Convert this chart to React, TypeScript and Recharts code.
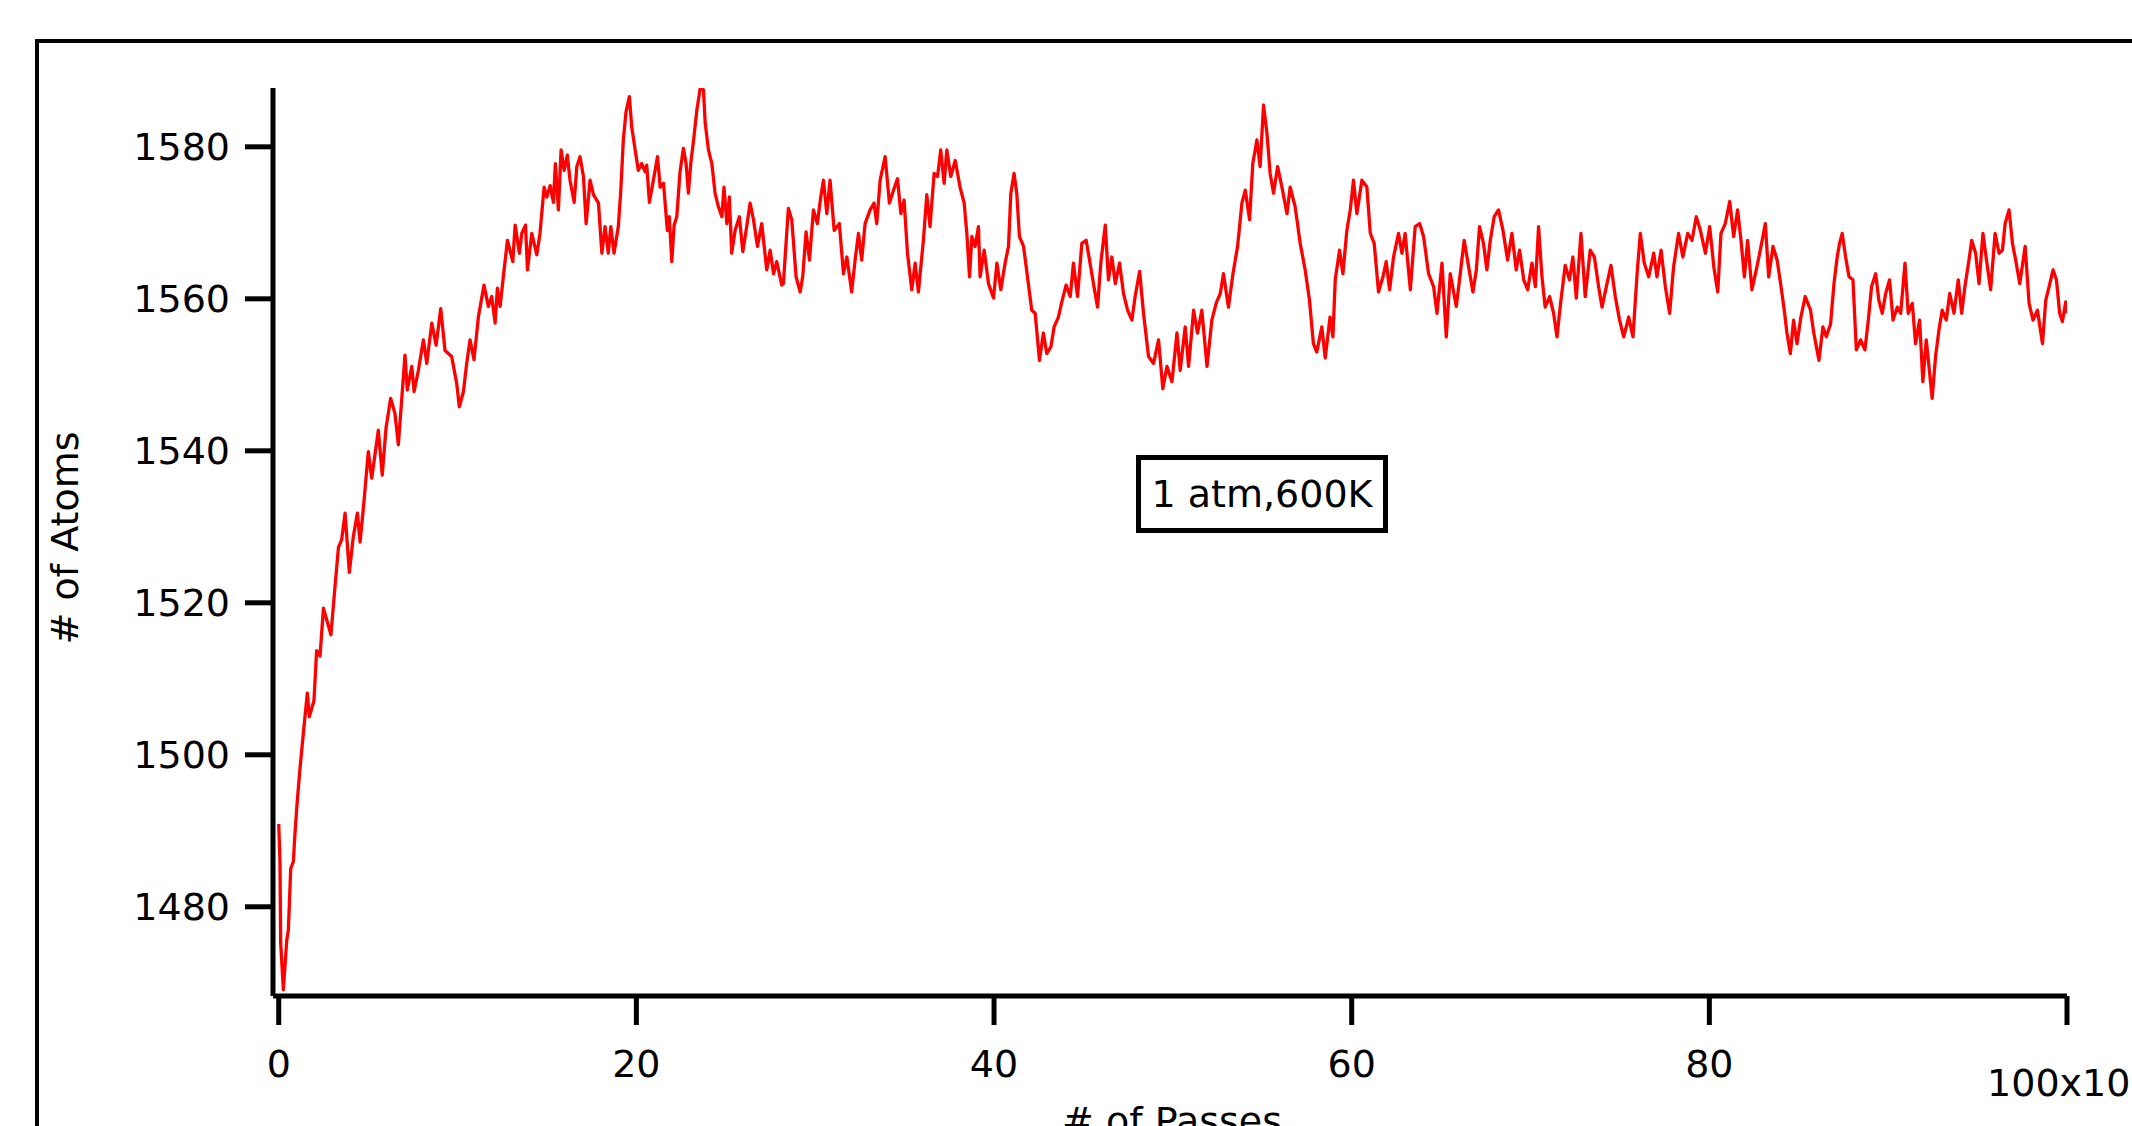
import { LineChart, Line, XAxis, YAxis } from "recharts";

// number of atoms vs Monte Carlo passes (x in units of 10^3 passes)
// in four stretches: [passes, atoms]
const RISE: [number, number][] = [
  [0, 1490.9], [0.07, 1486.0], [0.11, 1475.2], [0.26, 1469.1], [0.45, 1475.6], [0.54, 1477.0],
  [0.67, 1485.0], [0.82, 1486.0], [0.91, 1489.7], [1.04, 1494.0], [1.19, 1498.2], [1.38, 1502.9],
  [1.6, 1508.1], [1.71, 1505.0], [1.97, 1507.1], [2.12, 1513.7], [2.31, 1513.0], [2.5, 1519.3],
  [2.92, 1515.8], [3.15, 1522.2], [3.34, 1527.3], [3.52, 1528.3], [3.71, 1531.8], [3.95, 1524.0],
  [4.17, 1528.7], [4.4, 1531.8], [4.55, 1528.0], [4.77, 1533.4], [5.01, 1539.9], [5.2, 1536.4],
  [5.57, 1542.7], [5.79, 1536.8], [6.0, 1543.0], [6.26, 1546.9], [6.5, 1544.9], [6.69, 1540.8],
  [7.06, 1552.6], [7.19, 1548.0], [7.44, 1551.1], [7.57, 1547.8], [7.81, 1550.6], [8.09, 1554.6],
  [8.28, 1551.5], [8.56, 1556.8], [8.8, 1553.9], [9.06, 1558.7], [9.3, 1553.2], [9.67, 1552.4],
  [9.95, 1548.9], [10.1, 1545.8], [10.33, 1547.8], [10.51, 1551.5], [10.7, 1554.6], [10.92, 1552.0],
  [11.17, 1557.7], [11.48, 1561.8], [11.72, 1559.0], [11.91, 1560.3], [12.1, 1556.8], [12.23, 1561.4],
  [12.38, 1559.0], [12.56, 1562.9], [12.79, 1567.7], [13.09, 1564.9], [13.22, 1569.7], [13.46, 1566.0],
  [13.59, 1568.6], [13.8, 1569.7], [13.91, 1563.8], [14.15, 1568.6], [14.43, 1565.8], [14.61, 1568.6],
  [14.84, 1574.7], [14.99, 1573.4], [15.18, 1574.9], [15.36, 1572.7], [15.47, 1577.8], [15.64, 1571.7],
  [15.79, 1579.6], [15.96, 1576.9], [16.14, 1578.9], [16.29, 1575.6], [16.52, 1572.7], [16.67, 1577.4],
  [16.85, 1578.7], [17.04, 1576.1], [17.19, 1569.9], [17.41, 1575.6], [17.6, 1573.7], [17.88, 1572.6],
  [18.07, 1566.0], [18.25, 1569.5], [18.43, 1566.0], [18.57, 1569.5], [18.75, 1566.0], [18.99, 1569.5],
  [19.13, 1574.3], [19.27, 1580.9], [19.42, 1584.6], [19.61, 1586.6], [19.74, 1582.6], [19.93, 1579.6],
  [20.11, 1576.9], [20.3, 1577.8], [20.49, 1576.7], [20.58, 1577.6], [20.73, 1572.7], [20.95, 1575.6],
  [21.18, 1578.7], [21.33, 1574.7], [21.52, 1575.2], [21.73, 1569.0], [21.84, 1570.8], [21.98, 1564.9],
  [22.11, 1569.7], [22.26, 1570.8], [22.44, 1576.7], [22.63, 1579.8], [22.78, 1577.8], [22.91, 1573.9],
  [23.04, 1577.8], [23.19, 1580.7], [23.38, 1584.8], [23.57, 1587.7], [23.75, 1587.5], [23.85, 1583.1],
  [24.03, 1579.6], [24.22, 1577.8], [24.4, 1573.9], [24.59, 1572.1], [24.78, 1570.8], [24.9, 1574.7],
  [25.06, 1569.9], [25.2, 1573.4], [25.33, 1566.0], [25.52, 1569.0], [25.76, 1570.8], [25.95, 1566.2],
  [26.17, 1569.5], [26.36, 1572.6], [26.55, 1570.4], [26.77, 1566.9], [27.01, 1569.9], [27.29, 1563.8],
  [27.48, 1566.4], [27.67, 1563.3], [27.85, 1564.9], [28.13, 1561.8],
];

const MIDDLE: [number, number][] = [
  [28.22, 1562.0], [28.5, 1571.9], [28.69, 1570.4], [28.93, 1562.9], [29.16, 1560.9], [29.3, 1562.9],
  [29.49, 1568.8], [29.68, 1565.1], [29.9, 1571.7], [30.12, 1569.9], [30.31, 1573.4], [30.46, 1575.6],
  [30.65, 1571.2], [30.83, 1575.6], [31.06, 1569.0], [31.35, 1569.9], [31.58, 1563.3], [31.77, 1565.5],
  [32.04, 1560.9], [32.23, 1565.1], [32.42, 1568.6], [32.6, 1565.1], [32.79, 1569.9], [33.07, 1571.7],
  [33.29, 1572.6], [33.44, 1569.9], [33.63, 1575.6], [33.91, 1578.7], [34.15, 1572.6], [34.38, 1574.3],
  [34.6, 1575.8], [34.79, 1571.2], [34.97, 1573.0], [35.16, 1566.0], [35.4, 1561.2], [35.59, 1564.7],
  [35.77, 1560.9], [36.05, 1567.7], [36.24, 1573.7], [36.42, 1569.5], [36.65, 1576.5], [36.84, 1576.1],
  [37.02, 1579.6], [37.21, 1575.2], [37.36, 1579.6], [37.58, 1576.1], [37.83, 1578.2], [38.1, 1574.7],
  [38.33, 1572.6], [38.48, 1568.6], [38.63, 1562.9], [38.76, 1568.2], [38.94, 1566.9], [39.13, 1569.5],
  [39.22, 1562.9], [39.45, 1566.4], [39.69, 1562.0], [39.97, 1560.1], [40.16, 1564.7], [40.38, 1561.2],
  [40.62, 1564.7], [40.81, 1566.9], [40.94, 1573.9], [41.12, 1576.5], [41.27, 1573.9], [41.42, 1568.2],
  [41.65, 1566.9], [41.87, 1562.9], [42.11, 1558.5], [42.3, 1558.1], [42.54, 1551.9], [42.76, 1555.5],
  [42.95, 1552.8], [43.18, 1553.7], [43.36, 1556.3], [43.6, 1557.6], [43.79, 1559.6], [44.03, 1561.8],
  [44.26, 1560.3], [44.44, 1564.7], [44.67, 1560.3], [44.91, 1567.3], [45.15, 1567.7], [45.34, 1565.1],
  [45.56, 1562.0], [45.79, 1558.9], [45.97, 1564.7], [46.22, 1569.7], [46.4, 1562.5], [46.59, 1565.5],
  [46.78, 1562.0], [47.02, 1564.7], [47.24, 1560.7], [47.47, 1558.5], [47.71, 1557.2], [47.89, 1560.3],
  [48.14, 1563.6], [48.36, 1558.1], [48.64, 1552.4], [48.92, 1551.5], [49.2, 1554.6], [49.44, 1548.2],
  [49.67, 1551.1], [49.95, 1549.1], [50.23, 1555.5], [50.41, 1550.6], [50.69, 1556.3], [50.88, 1551.1],
  [51.16, 1558.5], [51.38, 1555.5], [51.62, 1558.5], [51.91, 1551.1], [52.18, 1557.2], [52.42, 1559.4],
  [52.65, 1560.7], [52.83, 1563.3], [53.11, 1558.9], [53.36, 1563.3], [53.62, 1566.9], [53.86, 1572.6],
  [54.05, 1574.3], [54.29, 1570.4], [54.47, 1577.8], [54.7, 1580.9], [54.88, 1577.4], [55.07, 1585.5],
  [55.26, 1581.8], [55.44, 1576.5], [55.63, 1573.9], [55.86, 1577.4], [56.1, 1574.7], [56.38, 1571.2],
  [56.56, 1574.7],
];

const LATE: [number, number][] = [
  [56.84, 1572.1], [57.12, 1567.3], [57.4, 1563.8], [57.64, 1559.8], [57.86, 1554.1], [58.05, 1553.0],
  [58.33, 1556.3], [58.52, 1552.2], [58.79, 1557.6], [58.95, 1555.0], [59.08, 1562.5], [59.32, 1566.4],
  [59.51, 1563.3], [59.73, 1569.0], [59.92, 1571.7], [60.1, 1575.6], [60.29, 1571.2], [60.57, 1575.6],
  [60.85, 1574.7], [61.04, 1568.6], [61.26, 1567.3], [61.5, 1560.9], [61.75, 1562.9], [61.93, 1564.9],
  [62.12, 1561.2], [62.34, 1565.5], [62.62, 1568.6], [62.81, 1566.0], [62.99, 1568.6], [63.28, 1561.2],
  [63.55, 1569.5], [63.8, 1569.9], [64.02, 1568.2], [64.3, 1563.3], [64.58, 1561.6], [64.77, 1558.1],
  [65.05, 1564.7], [65.29, 1555.0], [65.51, 1563.3], [65.85, 1559.0], [66.07, 1563.3], [66.29, 1567.7],
  [66.54, 1564.2], [66.78, 1560.9], [66.97, 1563.8], [67.15, 1569.5], [67.37, 1567.3], [67.56, 1563.8],
  [67.75, 1567.7], [67.97, 1570.8], [68.21, 1571.7], [68.46, 1569.0], [68.72, 1565.1], [68.96, 1568.6],
  [69.2, 1563.8], [69.39, 1566.4], [69.62, 1562.5], [69.84, 1561.2], [70.08, 1564.7], [70.27, 1561.6],
  [70.45, 1569.5], [70.64, 1562.9], [70.82, 1558.9], [71.07, 1560.3], [71.29, 1558.1], [71.48, 1555.0],
  [71.7, 1559.8], [71.94, 1564.4], [72.18, 1562.5], [72.37, 1565.5], [72.56, 1560.1], [72.82, 1568.6],
  [73.06, 1560.3], [73.34, 1566.4], [73.57, 1565.5], [73.81, 1561.6], [74.0, 1558.9], [74.24, 1561.6],
  [74.5, 1564.4], [74.74, 1560.3], [74.98, 1557.2], [75.21, 1555.0], [75.49, 1557.6], [75.73, 1555.0],
  [75.96, 1563.3], [76.14, 1568.6], [76.36, 1564.7], [76.61, 1562.9], [76.89, 1566.0], [77.07, 1562.9],
  [77.3, 1566.4], [77.54, 1561.6], [77.78, 1558.1], [78.0, 1564.2], [78.28, 1568.6], [78.52, 1565.5],
  [78.79, 1568.6], [79.03, 1567.7], [79.27, 1570.8], [79.5, 1569.0], [79.78, 1566.0], [80.02, 1569.5],
  [80.25, 1564.2], [80.47, 1560.9], [80.65, 1568.6], [80.89, 1569.9], [81.14, 1572.8], [81.36, 1568.2],
  [81.58, 1571.7], [81.77, 1567.7], [81.96, 1562.9], [82.14, 1567.7], [82.38, 1561.2], [82.66, 1564.2],
  [82.89, 1566.9], [83.13, 1569.9], [83.32, 1562.9], [83.56, 1566.9], [83.79, 1565.1], [84.01, 1561.6],
  [84.19, 1558.5], [84.34, 1555.5], [84.53, 1552.8], [84.71, 1557.2], [84.9, 1554.1], [85.12, 1557.6],
  [85.36, 1560.3],
];

const TAIL: [number, number][] = [
  [85.66, 1558.5], [85.84, 1555.5], [86.13, 1551.9], [86.35, 1556.3], [86.54, 1555.0], [86.78, 1556.7],
  [86.97, 1562.0], [87.15, 1565.5], [87.28, 1567.3], [87.43, 1568.6], [87.62, 1565.5], [87.81, 1562.9],
  [88.03, 1562.5], [88.22, 1553.3], [88.46, 1554.6], [88.7, 1553.3], [88.89, 1557.2], [89.07, 1561.6],
  [89.3, 1563.3], [89.48, 1559.8], [89.67, 1558.1], [89.86, 1560.7], [90.08, 1562.5], [90.27, 1557.2],
  [90.51, 1558.9], [90.7, 1558.1], [90.94, 1564.7], [91.12, 1558.1], [91.35, 1559.4], [91.53, 1554.1],
  [91.76, 1557.2], [91.94, 1549.1], [92.13, 1554.6], [92.32, 1550.2], [92.46, 1546.9], [92.65, 1552.4],
  [92.84, 1555.9], [93.02, 1558.5], [93.25, 1557.2], [93.44, 1560.7], [93.68, 1558.1], [93.92, 1562.5],
  [94.11, 1558.1], [94.29, 1561.6], [94.52, 1565.1], [94.67, 1567.7], [94.89, 1566.0], [95.08, 1562.0],
  [95.3, 1568.6], [95.55, 1564.2], [95.73, 1561.2], [95.98, 1568.6], [96.2, 1566.0], [96.39, 1566.4],
  [96.54, 1569.9], [96.76, 1571.7], [96.95, 1567.3], [97.13, 1565.1], [97.36, 1562.0], [97.66, 1566.9],
  [97.88, 1559.4], [98.1, 1557.2], [98.35, 1558.5], [98.63, 1554.1], [98.81, 1559.8], [99.0, 1561.6],
  [99.22, 1563.8], [99.41, 1562.5], [99.59, 1558.1], [99.74, 1557.0], [99.93, 1559.6], [100.0, 1558.1],
];

const X_TICKS = [0, 20, 40, 60, 80, 100];
const Y_TICKS = [1480, 1500, 1520, 1540, 1560, 1580];

const FONT = "'DejaVu Sans', Verdana, sans-serif";

const data = [...RISE, ...MIDDLE, ...LATE, ...TAIL].map(([passes, atoms]) => ({ passes, atoms }));

function PassTick({ x, y, payload }: any) {
  if (payload.value === 100) {
    // Igor-style axis multiplier, pushed a bit lower than the other labels
    return (
      <text x={x} y={y} dy={46} textAnchor="middle" fill="#000" fontSize={38} fontFamily={FONT}>
        100x10
        <tspan fontSize={26} dy={-15}>3</tspan>
      </text>
    );
  }
  return (
    <text x={x} y={y} dy={27} textAnchor="middle" fill="#000" fontSize={38} fontFamily={FONT}>
      {payload.value}
    </text>
  );
}

export default function App() {
  const axisStroke = { stroke: "#000", strokeWidth: 5 };
  return (
    <div
      style={{
        position: "absolute",
        left: 0,
        top: 0,
        width: 2132,
        height: 1126,
        overflow: "hidden",
        background: "#fff",
        fontFamily: FONT,
      }}
    >
      {/* outer graph frame, runs off the right and bottom edges */}
      <div
        style={{
          position: "absolute",
          left: 35,
          top: 39,
          width: 2300,
          height: 1300,
          border: "4px solid #000",
        }}
      />
      <LineChart
        width={2132}
        height={1126}
        data={data}
        margin={{ top: 88, right: 65, left: 73, bottom: 30 }}
        style={{ position: "absolute", left: 0, top: 0 }}
      >
        <XAxis
          type="number"
          dataKey="passes"
          domain={[-0.32, 100]}
          ticks={X_TICKS}
          allowDataOverflow
          height={100}
          axisLine={axisStroke}
          tickLine={axisStroke}
          tickSize={29}
          tickMargin={25}
          tick={<PassTick />}
          label={{
            content: () => (
              <text x={1172} y={1134} textAnchor="middle" fill="#000" fontSize={38} fontFamily={FONT}>
                # of Passes
              </text>
            ),
          }}
        />
        <YAxis
          type="number"
          domain={[1468.26, 1587.74]}
          ticks={Y_TICKS}
          allowDataOverflow
          width={200}
          axisLine={axisStroke}
          tickLine={axisStroke}
          tickSize={28}
          tickMargin={15}
          tick={{ fill: "#000", fontSize: 38, fontFamily: FONT }}
          label={{
            content: () => (
              <text
                transform="translate(78, 538) rotate(-90)"
                textAnchor="middle"
                fill="#000"
                fontSize={38}
                fontFamily={FONT}
              >
                # of Atoms
              </text>
            ),
          }}
        />
        <Line
          type="linear"
          dataKey="atoms"
          stroke="#ff0000"
          strokeWidth={3.3}
          strokeLinejoin="round"
          dot={false}
          isAnimationActive={false}
        />
      </LineChart>
      {/* text box annotation */}
      <div
        style={{
          position: "absolute",
          left: 1136,
          top: 455,
          width: 252,
          height: 78,
          boxSizing: "border-box",
          border: "5px solid #000",
          background: "#fff",
          display: "flex",
          alignItems: "center",
          justifyContent: "center",
          fontSize: 38,
          lineHeight: "38px",
          color: "#000",
        }}
      >
        1 atm,600K
      </div>
    </div>
  );
}
